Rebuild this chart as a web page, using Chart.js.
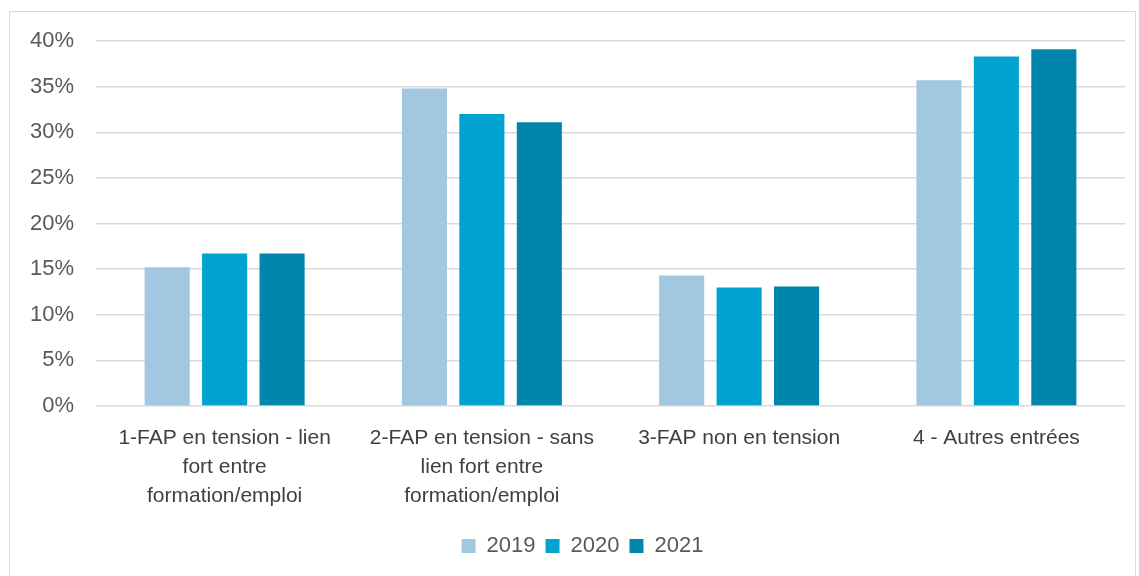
<!DOCTYPE html>
<html>
<head>
<meta charset="utf-8">
<script src="https://cdn.jsdelivr.net/npm/chart.js@4"></script>
<style>
body{margin:0;background:#fff;}
#box{position:absolute;left:9px;top:11px;width:1127px;height:568px;border:1px solid #d9d9d9;box-sizing:border-box;}
</style>
</head>
<body>
<div id="box"><canvas id="chart" width="1125" height="566"></canvas></div>
<script>
const categories=[
 ['1-FAP en tension - lien','fort entre','formation/emploi'],
 ['2-FAP en tension - sans','lien fort entre','formation/emploi'],
 '3-FAP non en tension',
 '4 - Autres entrées'];
const years=['2019','2020','2021'];
const v2019=[15.2,34.8,14.3,35.7];
const v2020=[16.7,32.0,13.0,38.3];
const v2021=[16.7,31.1,13.1,39.1];
const colors=['#A2C7E0','#00A3CF','#0086AA'];
const yTicks=[0,5,10,15,20,25,30,35,40];

const series=[v2019,v2020,v2021];
// nudge legend to the right like in the original
const legendShift={id:'legendShift',afterLayout(c){if(c.legend){c.legend.left+=15;c.legend.right+=15;}}};
new Chart(document.getElementById('chart'),{
 type:'bar',
 data:{labels:categories,datasets:series.map((d,i)=>({label:years[i],data:d,backgroundColor:colors[i],barPercentage:0.785,categoryPercentage:0.67}))},
 plugins:[legendShift],
 options:{
  responsive:false,animation:false,
  layout:{padding:{top:29,right:10,bottom:11,left:0}},
  plugins:{
   legend:{position:'bottom',labels:{boxWidth:14,boxHeight:14,padding:10,color:'#595959',font:{family:'Liberation Sans, Arial',size:22}}},
   tooltip:{enabled:false}
  },
  scales:{
   x:{grid:{display:false},border:{display:false},
      ticks:{color:'#404040',font:{family:'Liberation Sans, Arial',size:21,lineHeight:1.38},maxRotation:0,autoSkip:false,padding:10},
      afterFit:s=>{s.height=119;}},
   y:{min:0,max:40,afterBuildTicks:s=>{s.ticks=yTicks.map(v=>({value:v}));},
      grid:{color:'#d9d9d9',lineWidth:1.5,drawTicks:false},border:{display:false},
      ticks:{color:'#595959',padding:22,font:{family:'Liberation Sans, Arial',size:22},callback:v=>v+'%'},
      afterFit:s=>{s.width=86;s.paddingTop=0;s.paddingBottom=0;}}
  }
 }
});
</script>
</body>
</html>
